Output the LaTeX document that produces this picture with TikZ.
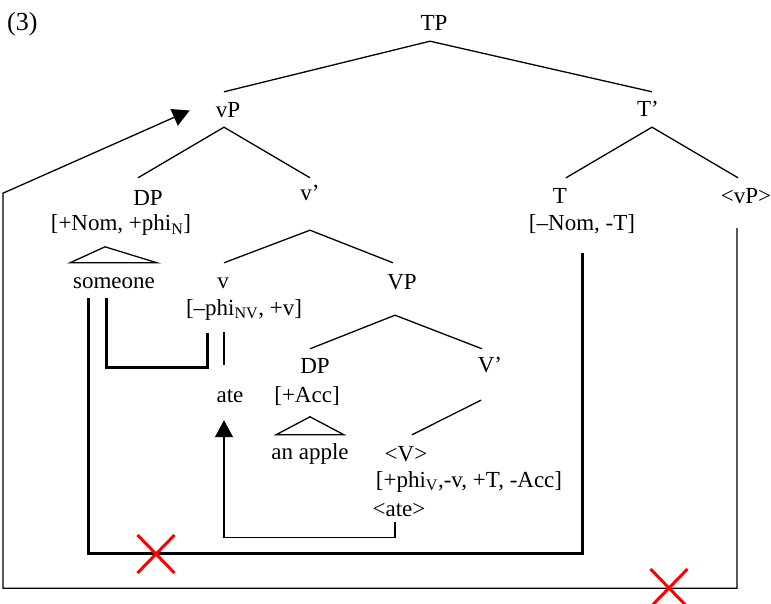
\documentclass[tikz,border=0pt]{standalone}
\usepackage{fontspec}
\setmainfont{Liberation Serif}
\usetikzlibrary{arrows.meta,shapes.misc}
\tikzset{>={Triangle[length=17pt,width=18pt]}}
\tikzset{
  cat/.style={font=\fontsize{23}{27}\selectfont, inner sep=0pt,
    text height=16pt, text depth=5pt, anchor=base},
  branch/.style={line width=1.3pt},
  agree/.style={line width=3pt},
  move/.style={line width=1.3pt,->},
  blocked/.style={cross out, draw=red, line width=3pt,
    minimum width=34pt, minimum height=35pt, inner sep=0pt},
}

\begin{document}
\begin{tikzpicture}[x=1pt,y=-1pt]
\useasboundingbox (0,0) rectangle (771,604);

\node[cat,anchor=base west,font=\fontsize{26}{30}\selectfont] (num) at (7,31) {(3)};

% the tree
\node[cat] (TP) at (434,31) {TP};
\node[cat] (vP) at (228,118) {vP};
\node[cat] (Tbar) at (648,117) {T'};
\node[cat] (DPsubj) at (148,206) {DP};
\node[cat] (vbar) at (310,201) {v'};
\node[cat] (T) at (560,204) {T};
\node[cat] (vPcopy) at (746,204) {<vP>};
\node[cat] (DPsubjF) at (121,231) {[+Nom, +phi\textsubscript{N}]};
\node[cat] (TF) at (582,231) {[--Nom, -T]};
\node[cat] (someone) at (114,288) {someone};
\node[cat] (v) at (223,288) {v};
\node[cat] (VP) at (402,289) {VP};
\node[cat] (vF) at (244,315) {[--phi\textsubscript{NV}, +v]};
\node[cat] (DPobj) at (315,373) {DP};
\node[cat] (Vbar) at (490,372) {V'};
\node[cat] (ate) at (230,402) {ate};
\node[cat] (DPobjF) at (307,402) {[+Acc]};
\node[cat] (apple) at (310,459) {an apple};
\node[cat] (Vcopy) at (406,461) {<V>};
\node[cat] (VF) at (469,487) {[+phi\textsubscript{V},-v, +T, -Acc]};
\node[cat] (ateCopy) at (399,516) {<ate>};

\draw[branch] ([xshift=-4pt,yshift=10pt]vP.north) -- ([xshift=-4pt,yshift=-5pt]TP.south)
  -- ([xshift=4pt,yshift=9pt]Tbar.north);
\draw[branch] ([xshift=-10pt,yshift=12pt]DPsubj.north) -- ([xshift=-4pt,yshift=-4pt]vP.south)
  -- ([yshift=7pt]vbar.north);
\draw[branch] ([xshift=6pt,yshift=10pt]T.north) -- ([xshift=4pt,yshift=-5pt]Tbar.south)
  -- ([xshift=-8pt,yshift=10pt]vPcopy.north);
\draw[branch] ([xshift=1pt,yshift=9pt]v.north) -- ([yshift=-24pt]vbar.south)
  -- ([xshift=-9pt,yshift=10pt]VP.north);
\draw[branch] ([xshift=-5pt,yshift=8pt]DPobj.north) -- ([xshift=-7pt,yshift=-21pt]VP.south)
  -- ([xshift=-8pt,yshift=7pt]Vbar.north);
\draw[branch] ([xshift=-9pt,yshift=-23pt]Vbar.south) -- ([xshift=6pt,yshift=10pt]Vcopy.north);

% triangles
\draw[branch] ([xshift=-44pt,yshift=9pt]someone.north) -- ([xshift=-9pt,yshift=25pt]someone.north)
  -- ([xshift=43pt,yshift=9pt]someone.north) -- cycle;
\draw[branch] ([xshift=-34pt,yshift=8pt]apple.north) -- ([yshift=26pt]apple.north)
  -- ([xshift=34pt,yshift=8pt]apple.north) -- cycle;

% v and its verb
\draw[branch] ([xshift=-20pt,yshift=-12pt]vF.south) -- ([xshift=-6pt,yshift=21pt]ate.north);

% agreement
\draw[agree] ([xshift=-8pt,yshift=-5pt]someone.south) -- ++(0,69)
  -| ([xshift=-37pt,yshift=-13pt]vF.south);
\draw[agree] ([xshift=-26pt,yshift=-5pt]someone.south) -- ++(0,255)
  -| ([yshift=-17pt]TF.south);

% movement
\draw[move] ([xshift=-4pt,yshift=-1pt]ateCopy.south) -- ++(0,15)
  -| ([xshift=-6pt,yshift=-13pt]ate.south);
\draw[move] ([xshift=-9pt,yshift=-19pt]vPcopy.south) -- ++(0,360) -- ++(-734,0)
  -- ++(0,-395) -- ([xshift=-26pt,yshift=2pt]vP.west);

\node[blocked] (x1) at (156,554) {};
\node[blocked] (x2) at (669,588) {};
\end{tikzpicture}
\end{document}
